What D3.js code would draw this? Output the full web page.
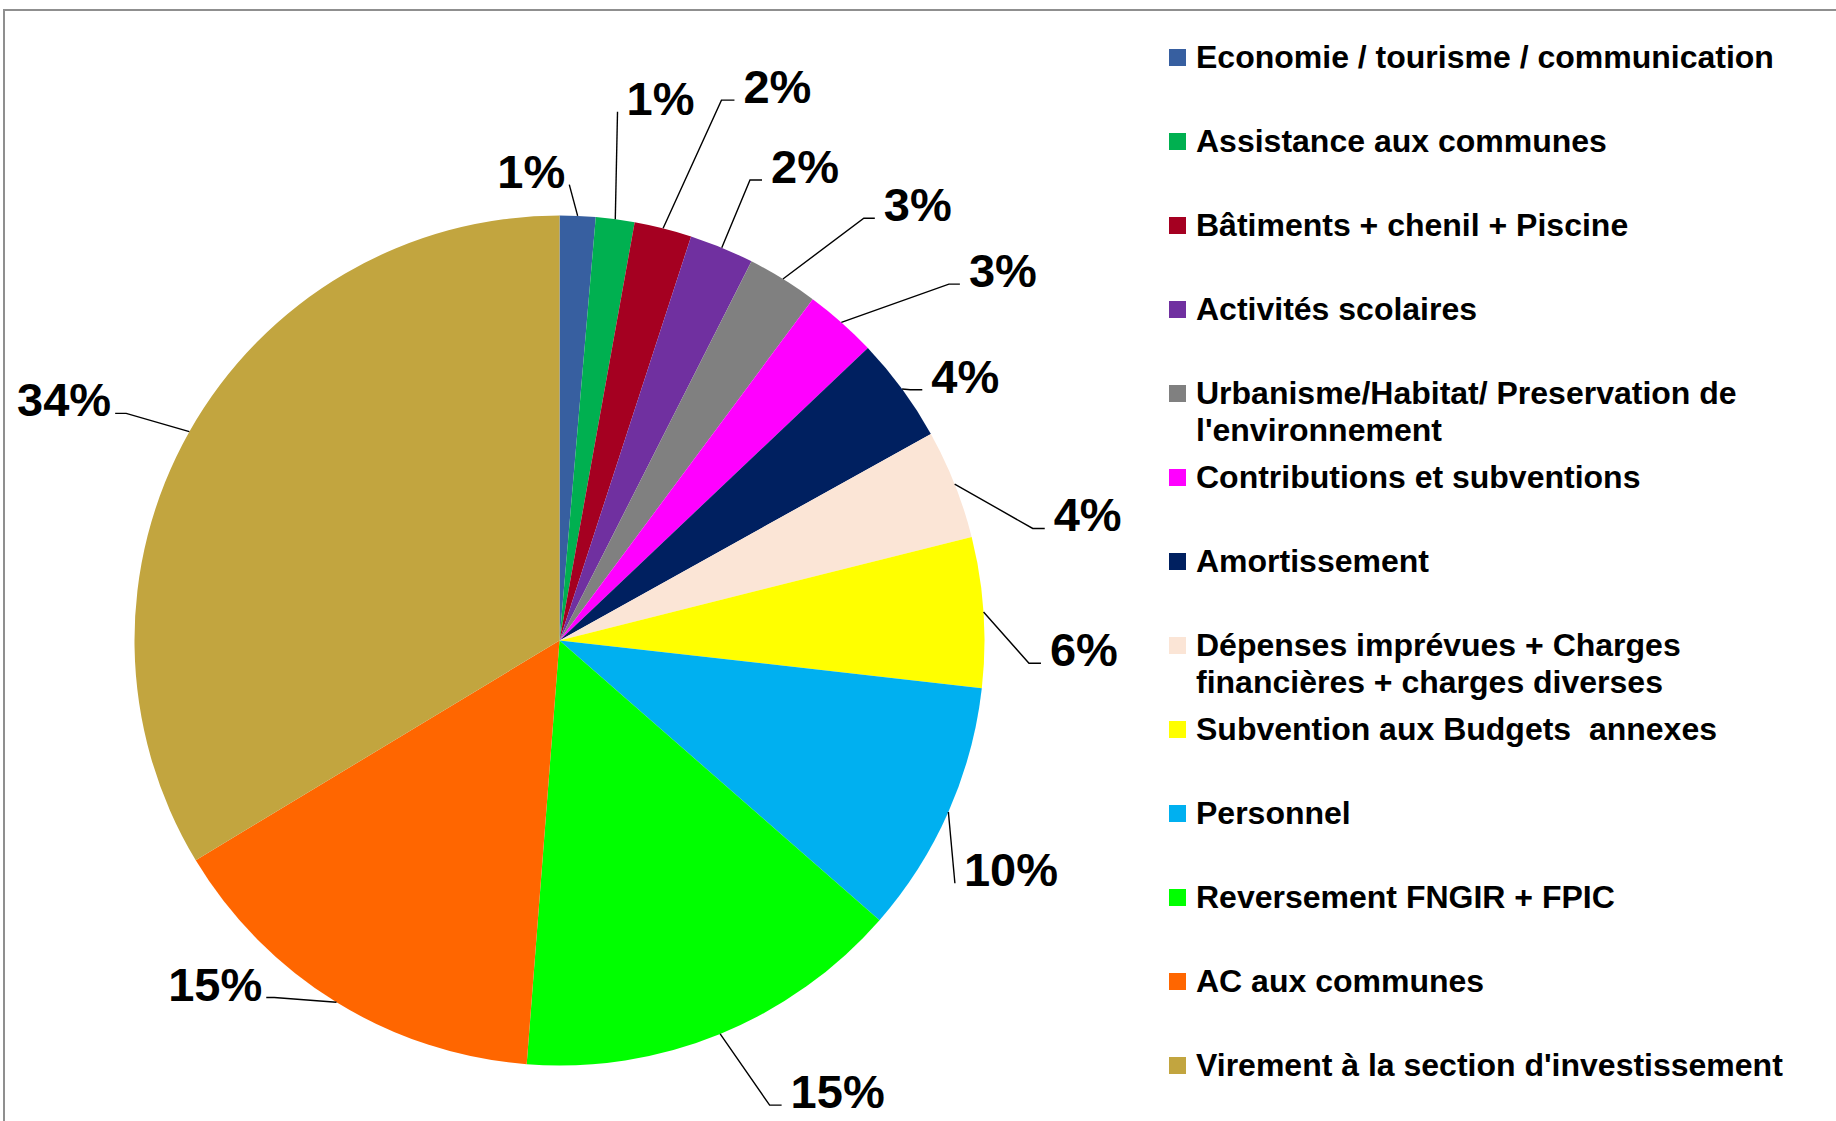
<!DOCTYPE html>
<html>
<head>
<meta charset="utf-8">
<script src="https://cdnjs.cloudflare.com/ajax/libs/d3/7.8.5/d3.min.js"></script>
<style>
  html, body { margin: 0; padding: 0; background: #fff; }
  svg { display: block; }
  text { font-family: "Liberation Sans", Arial, sans-serif; font-weight: bold; fill: #000; }
</style>
</head>
<body>
<div id="chart"></div>
<script>
// categories, in drawing order (clockwise from 12 o'clock)
var categories = [
  "Economie / tourisme / communication",
  "Assistance aux communes",
  "Bâtiments + chenil + Piscine",
  "Activités scolaires",
  "Urbanisme/Habitat/ Preservation de\nl'environnement",
  "Contributions et subventions",
  "Amortissement",
  "Dépenses imprévues + Charges\nfinancières + charges diverses",
  "Subvention aux Budgets  annexes",
  "Personnel",
  "Reversement FNGIR + FPIC",
  "AC aux communes",
  "Virement à la section d'investissement"
];

// share of the budget, in percent
var shares = [1.36, 1.47, 2.18, 2.45, 2.70, 2.76, 4.00, 4.16, 5.71, 9.64, 14.80, 15.12, 33.65];

var colors = [
  "#375fa0", "#00b050", "#a50021", "#7030a0", "#808080", "#ff00ff", "#002060",
  "#fbe5d6", "#ffff00", "#00b0f0", "#00ff00", "#ff6600", "#c2a53f"
];

// where Excel put each data label: end of leader (angle in degrees, radius),
// side of the text, and length of the short horizontal tail
var labelLayout = [
  {a: 1.23,   r: 456, side: -1, tail: 0},
  {a: 6.26,   r: 532, side: 1,  tail: 0},
  {a: 17.94,  r: 568, side: 1,  tail: 13},
  {a: 23.74,  r: 503, side: 1,  tail: 12},
  {a: 36.75,  r: 527, side: 1,  tail: 11},
  {a: 48.33,  r: 536, side: 1,  tail: 11},
  {a: 55.35,  r: 441, side: 1,  tail: 12},
  {a: 77.0,   r: 498, side: 1,  tail: 12},
  {a: 92.7,   r: 482, side: 1,  tail: 12},
  {a: 121.55, r: 464, side: 1,  tail: 0},
  {a: 154.45, r: 515, side: 1,  tail: 12},
  {a: 219.4,  r: 462, side: -1, tail: 8},
  {a: 297.07, r: 499, side: -1, tail: 11}
];

var width = 1836, height = 1121;
var cx = 559.5, cy = 640.5, radius = 425;

var svg = d3.select("#chart").append("svg")
  .attr("width", width)
  .attr("height", height);

// chart area frame (runs off the right and bottom edges)
svg.append("rect")
  .attr("x", 4).attr("y", 10)
  .attr("width", 1900).attr("height", 1200)
  .attr("fill", "none")
  .attr("stroke", "#8f8f8f")
  .attr("stroke-width", 2);

var data = shares.map(function(v, i){
  return {name: categories[i], value: v, color: colors[i], layout: labelLayout[i]};
});

var pie = d3.pie().sort(null).value(function(d){ return d.value; });
var arc = d3.arc().innerRadius(0).outerRadius(radius);
var arcs = pie(data);
var total = d3.sum(shares);
var pct = d3.format(".0%");

var g = svg.append("g").attr("transform", "translate(" + cx + "," + cy + ")");

g.selectAll("path.slice")
  .data(arcs)
  .enter().append("path")
  .attr("class", "slice")
  .attr("d", arc)
  .attr("fill", function(d){ return d.data.color; });

// polar helper, angle measured clockwise from 12 o'clock
function polar(angle, r){
  return [r * Math.sin(angle), -r * Math.cos(angle)];
}

var labels = g.selectAll("g.label")
  .data(arcs)
  .enter().append("g")
  .attr("class", "label");

labels.each(function(d){
  var lay = d.data.layout;
  var mid = (d.startAngle + d.endAngle) / 2;
  var start = polar(mid, radius);
  var end = polar(lay.a * Math.PI / 180, lay.r);
  var elbow = [end[0] - lay.side * lay.tail, end[1]];
  var pts = lay.tail > 0 ? [start, elbow, end] : [start, end];
  var sel = d3.select(this);

  sel.append("path")
    .attr("d", d3.line()(pts))
    .attr("fill", "none")
    .attr("stroke", "#000")
    .attr("stroke-width", 1.4);

  var gap = lay.side > 0 ? 9 : 4;
  sel.append("text")
    .attr("x", end[0] + lay.side * gap)
    .attr("y", end[1] + 3)
    .attr("text-anchor", lay.side > 0 ? "start" : "end")
    .style("font-size", "47px")
    .text(pct(d.data.value / total));
});

// legend
var legendX = 1169, legendY0 = 68, legendStep = 84, lineStep = 36.7, swatch = 17;

var legend = svg.append("g").attr("class", "legend");

var items = legend.selectAll("g.item")
  .data(data)
  .enter().append("g")
  .attr("class", "item")
  .attr("transform", function(d, i){ return "translate(" + legendX + "," + (legendY0 + i * legendStep) + ")"; });

items.append("rect")
  .attr("x", 0)
  .attr("y", -19)
  .attr("width", swatch)
  .attr("height", swatch)
  .attr("fill", function(d){ return d.color; });

items.append("text")
  .attr("x", 27)
  .attr("y", 0)
  .style("font-size", "32px")
  .style("white-space", "pre")
  .each(function(d){
    var t = d3.select(this);
    d.name.split("\n").forEach(function(line, k){
      t.append("tspan")
        .attr("x", 27)
        .attr("dy", k === 0 ? 0 : lineStep)
        .text(line);
    });
  });
</script>
</body>
</html>
